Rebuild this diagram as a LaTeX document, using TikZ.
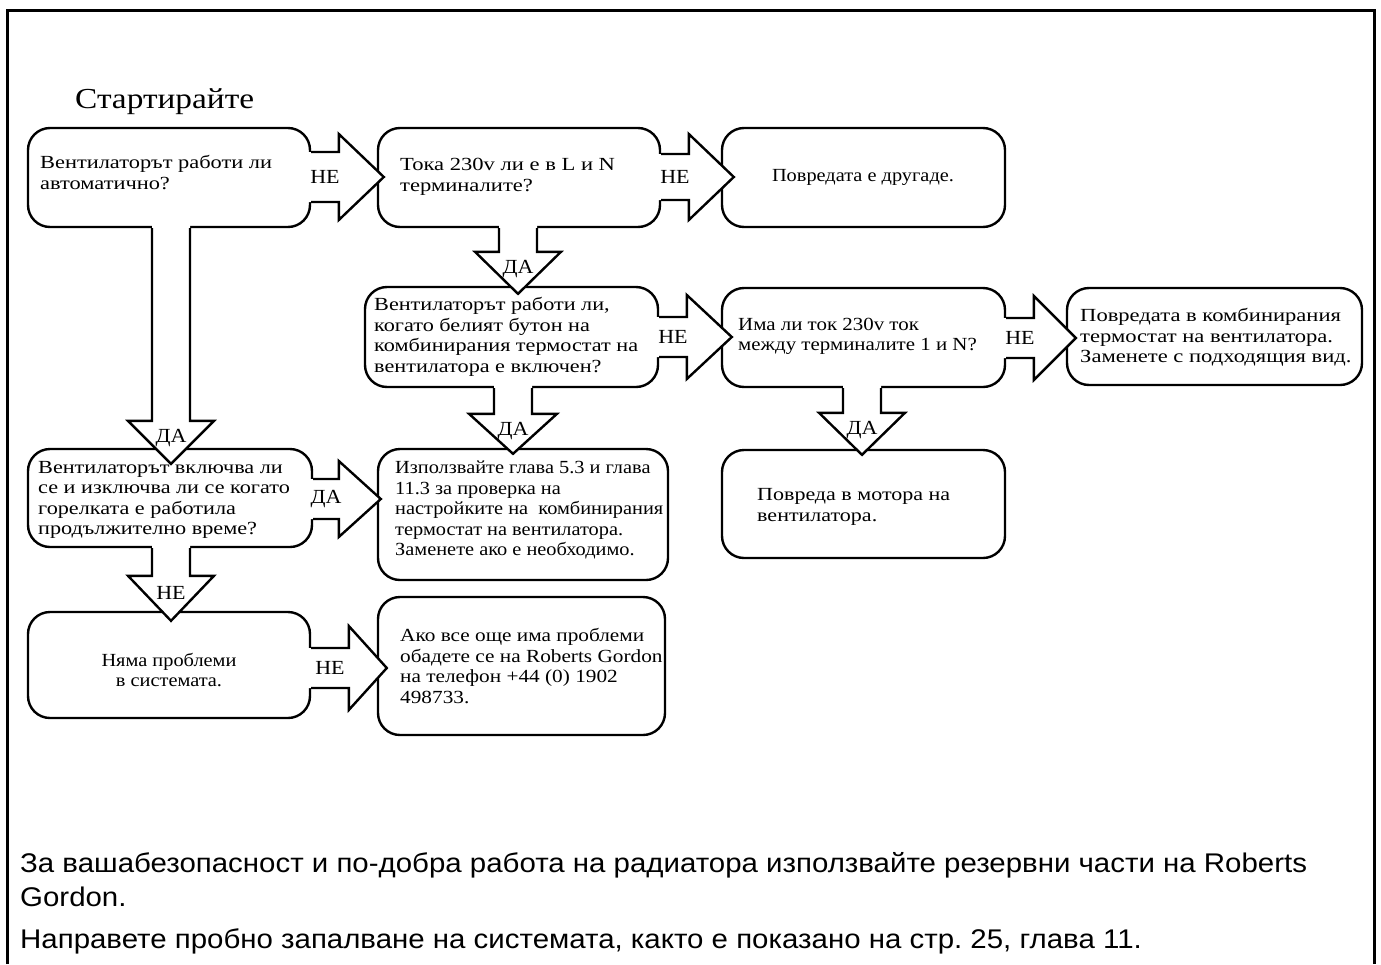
\documentclass[tikz,border=0pt]{standalone}
\usepackage{fontspec}
\newfontfamily\boxfont{Liberation Serif}
\newfontfamily\notefont{Liberation Sans}[FakeStretch=1.09]
\usetikzlibrary{calc}
\frenchspacing

\tikzset{
  boxst/.style={draw, line width=2.4pt, rounded corners=22pt, fill=white, rectangle, inner sep=0pt},
  fatline/.style={line width=2.4pt, line join=miter},
  txt/.style={font={\boxfont\fontsize{18.5}{20.5}\selectfont\addfontfeature{FakeStretch=#1}},
    align=left, inner sep=0pt, anchor=west},
  txt/.default=1.2,
  ctxt/.style={txt=#1, align=center, anchor=center},
  ctxt/.default=1.1,
  lbl/.style={font={\boxfont\fontsize{20}{22}\selectfont\addfontfeature{FakeStretch=1.1}}, inner sep=0pt},
  note/.style={font=\notefont\fontsize{27}{32}\selectfont, inner sep=0pt, anchor=base west},
}

% rounded box from its corners (x1,y1) to (x2,y2)
\newcommand\flowbox[5]{%
  \node[boxst, minimum width={(#4-#2)*1pt}, minimum height={(#5-#3)*1pt}]
    (#1) at ({(#2+#4)/2},{(#3+#5)/2}) {};}

% horizontal block arrow: from, to, y, shaft half, head half, head length, tip overlap, label
\newcommand\fatH[8]{%
  \coordinate (fa) at (#1.east |- 0,#3);
  \coordinate (ft) at ($(#2.west |- 0,#3)+(#7,0)$);
  \coordinate (fb) at ($(ft)+(-#6,0)$);
  \fill[white] ($(fa)+(-5,-#4)$) -- ($(fb)+(0,-#4)$) -- ($(fb)+(0,-#5)$) -- (ft)
     -- ($(fb)+(0,#5)$) -- ($(fb)+(0,#4)$) -- ($(fa)+(-5,#4)$) -- cycle;
  \draw[fatline] ($(fa)+(0,-#4)$) -- ($(fb)+(0,-#4)$) -- ($(fb)+(0,-#5)$) -- (ft)
     -- ($(fb)+(0,#5)$) -- ($(fb)+(0,#4)$) -- ($(fa)+(0,#4)$);
  \node[lbl] at ($(fa)!0.5!(fb)$) {#8};}

% vertical block arrow: from, to, x, shaft half, head half, head length, tip overlap, label
\newcommand\fatV[8]{%
  \coordinate (fa) at (#1.south -| #3,0);
  \coordinate (ft) at ($(#2.north -| #3,0)+(0,#7)$);
  \coordinate (fb) at ($(ft)+(0,-#6)$);
  \fill[white] ($(fa)+(-#4,-5)$) -- ($(fb)+(-#4,0)$) -- ($(fb)+(-#5,0)$) -- (ft)
     -- ($(fb)+(#5,0)$) -- ($(fb)+(#4,0)$) -- ($(fa)+(#4,-5)$) -- cycle;
  \draw[fatline] ($(fa)+(-#4,0)$) -- ($(fb)+(-#4,0)$) -- ($(fb)+(-#5,0)$) -- (ft)
     -- ($(fb)+(#5,0)$) -- ($(fb)+(#4,0)$) -- ($(fa)+(#4,0)$);
  \node[lbl] at ($(fb)+(0,17)$) {#8};}

\begin{document}
\begin{tikzpicture}[x=1pt, y=-1pt]
\useasboundingbox[fill=white] (0,0) rectangle (1381,964);

% page frame
\draw[line width=3pt] (7,964) -- (7,10) -- (1374,10) -- (1374,964);

\node[anchor=base west, inner sep=0pt,
      font={\boxfont\fontsize{29}{32}\selectfont\addfontfeature{FakeStretch=1.15}}]
  (start) at (75,108) {Стартирайте};

% boxes
\flowbox{A}{28}{128}{310}{227}
\flowbox{B}{378}{128}{660}{227}
\flowbox{C}{722}{128}{1005}{227}
\flowbox{E}{365}{287}{658}{387}
\flowbox{G}{722}{288}{1005}{387}
\flowbox{H}{1067}{288}{1362}{385}
\flowbox{D}{28}{449}{312}{547}
\flowbox{I}{378}{449}{668}{580}
\flowbox{J}{722}{450}{1005}{558}
\flowbox{F}{28}{612}{310}{718}
\flowbox{K}{378}{597}{665}{735}

% connectors
\fatH{A}{B}{177}{25}{43}{45}{7}{НЕ}
\fatH{B}{C}{177}{23}{43}{45}{13}{НЕ}
\fatH{E}{G}{337}{20}{42}{45}{11}{НЕ}
\fatH{G}{H}{338}{20}{42}{42}{10}{НЕ}
\fatH{D}{I}{499}{20}{38}{42}{4}{ДА}
\fatH{F}{K}{668}{20}{42}{38}{10}{НЕ}
\fatV{A}{D}{171}{19}{43}{43}{16}{ДА}
\fatV{B}{E}{518}{19}{43}{42}{8}{ДА}
\fatV{E}{I}{513}{19}{44}{40}{6}{ДА}
\fatV{G}{J}{862}{19}{43}{42}{6}{ДА}
\fatV{D}{F}{171}{19}{43}{45}{10}{НЕ}

% box texts
\node[txt=1.21] (tA) at (40,172.5) {Вентилаторът работи ли\\автоматично?};
\node[txt=1.22] (tB) at (400,177) {Тока 230v ли е в L и N\\терминалите?};
\node[ctxt] (tC) at (863,177) {Повредата е другаде.};
\node[txt=1.2] (tE) at (374,337) {Вентилаторът работи ли,\\когато белият бутон на\\комбинирания термостат на\\вентилатора е включен?};
\node[txt=1.13] (tG) at (738,336.5) {Има ли ток 230v ток\\между терминалите 1 и N?};
\node[txt=1.22] (tH) at (1080,337.5) {Повредата в комбинирания\\термостат на вентилатора.\\Заменете с подходящия вид.};
\node[txt=1.2] (tD) at (38,500) {Вентилаторът включва ли\\се и изключва ли се когато\\горелката е работила\\продължително време?};
\node[txt=1.1] (tI) at (395,510) {Използвайте глава 5.3 и глава\\11.3 за проверка на\\настройките на\ \ комбинирания\\термостат на вентилатора.\\Заменете ако е необходимо.};
\node[txt=1.19] (tJ) at (757,507) {Повреда в мотора на\\вентилатора.};
\node[ctxt] (tF) at (169,670) {Няма проблеми\\в системата.};
\node[txt=1.15] (tK) at (400,666) {Ако все още има проблеми\\обадете се на Roberts Gordon\\на телефон +44 (0) 1902\\498733.};

% notes under the chart
\node[note] (n1) at (20,872) {За вашабезопасност и по-добра работа на радиатора използвайте резервни части на Roberts};
\node[note] (n2) at (20,906) {Gordon.};
\node[note] (n3) at (20,948) {Направете пробно запалване на системата, както е показано на стр. 25, глава 11.};
\end{tikzpicture}
\end{document}
